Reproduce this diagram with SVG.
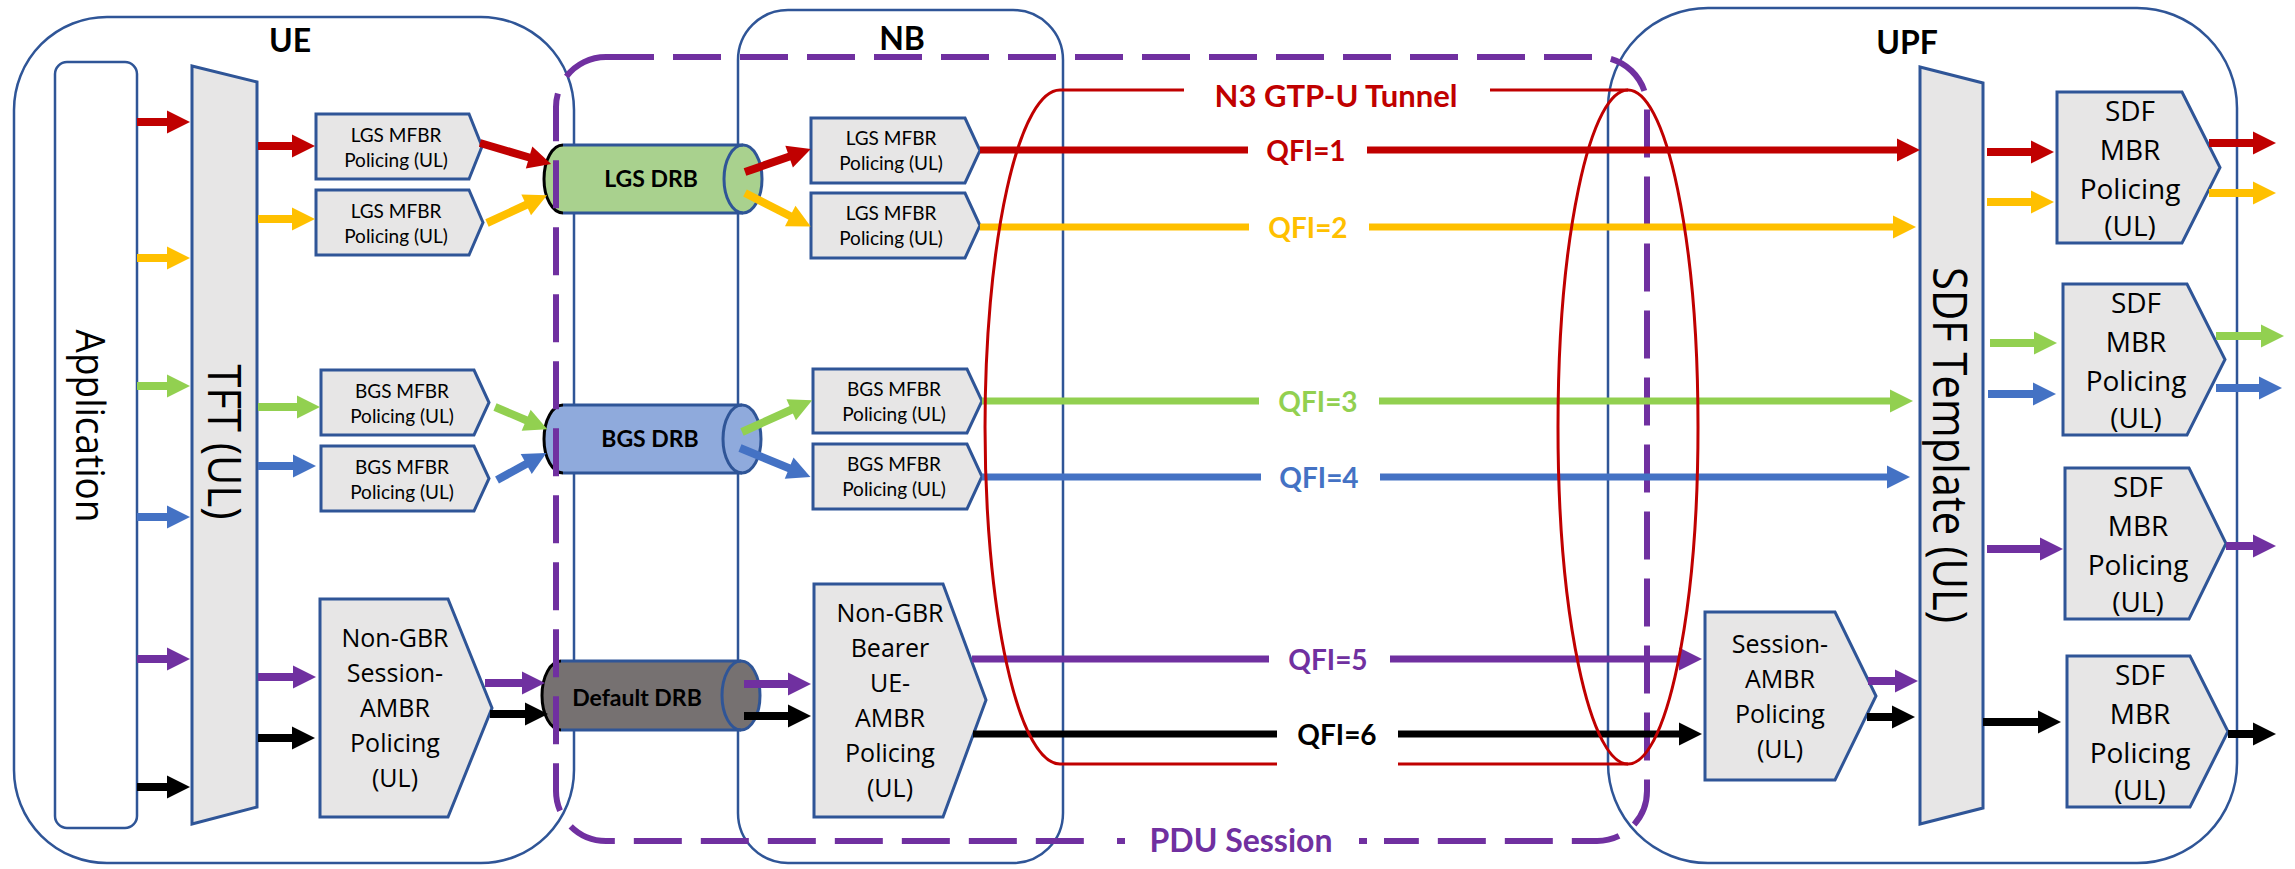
<svg xmlns="http://www.w3.org/2000/svg" width="2295" height="869" viewBox="0 0 2295 869">
<style>
.cont{fill:none;stroke:#2F5597;stroke-width:2.5}
.box{fill:#E7E6E6;stroke:#2F5597;stroke-width:3}
.sm{font-family:Lato,"Open Sans",sans-serif;font-size:19px;fill:#000;text-anchor:middle}
.md{font-family:"Open Sans",sans-serif;font-size:25px;fill:#000;text-anchor:middle}
.sd{font-family:"Open Sans",sans-serif;font-size:28px;fill:#000;text-anchor:middle}
.big{font-family:"Open Sans",sans-serif;fill:#000;text-anchor:middle}
.hdr{font-family:Lato,"Open Sans",sans-serif;font-weight:bold;font-size:32px;fill:#000;text-anchor:middle}
.drb{font-family:Lato,"Open Sans",sans-serif;font-weight:bold;font-size:23px;fill:#000;text-anchor:middle}
.qfi{font-family:Lato,"Open Sans",sans-serif;font-weight:bold;font-size:28px;text-anchor:middle}
.a{fill:none;stroke-width:8}
.q{fill:none;stroke-width:7}
.r{stroke:#C00000}.y{stroke:#FFC000}.g{stroke:#92D050}.b{stroke:#4472C4}.p{stroke:#7030A0}.k{stroke:#000}
.r.a,.r.q{marker-end:url(#mr)}.y.a,.y.q{marker-end:url(#my)}.g.a,.g.q{marker-end:url(#mg)}
.b.a,.b.q{marker-end:url(#mb)}.p.a,.p.q{marker-end:url(#mp)}.k.a,.k.q{marker-end:url(#mk)}
.cyl-side{stroke:#2F5597;stroke-width:3;fill:none}
.wbg{fill:#fff}
</style>
<defs>
<marker id="mr" markerUnits="userSpaceOnUse" markerWidth="23" markerHeight="23" viewBox="0 -11.5 23 23" refX="2" refY="0" orient="auto" overflow="visible"><path d="M0,-11.5L23,0L0,11.5Z" fill="#C00000"/></marker>
<marker id="my" markerUnits="userSpaceOnUse" markerWidth="23" markerHeight="23" viewBox="0 -11.5 23 23" refX="2" refY="0" orient="auto" overflow="visible"><path d="M0,-11.5L23,0L0,11.5Z" fill="#FFC000"/></marker>
<marker id="mg" markerUnits="userSpaceOnUse" markerWidth="23" markerHeight="23" viewBox="0 -11.5 23 23" refX="2" refY="0" orient="auto" overflow="visible"><path d="M0,-11.5L23,0L0,11.5Z" fill="#92D050"/></marker>
<marker id="mb" markerUnits="userSpaceOnUse" markerWidth="23" markerHeight="23" viewBox="0 -11.5 23 23" refX="2" refY="0" orient="auto" overflow="visible"><path d="M0,-11.5L23,0L0,11.5Z" fill="#4472C4"/></marker>
<marker id="mp" markerUnits="userSpaceOnUse" markerWidth="23" markerHeight="23" viewBox="0 -11.5 23 23" refX="2" refY="0" orient="auto" overflow="visible"><path d="M0,-11.5L23,0L0,11.5Z" fill="#7030A0"/></marker>
<marker id="mk" markerUnits="userSpaceOnUse" markerWidth="23" markerHeight="23" viewBox="0 -11.5 23 23" refX="2" refY="0" orient="auto" overflow="visible"><path d="M0,-11.5L23,0L0,11.5Z" fill="#000"/></marker>
</defs>
<rect width="2295" height="869" fill="#fff"/>

<!-- containers -->
<g id="ue"><rect class="cont" x="14" y="17" width="560" height="846" rx="93"/><text class="hdr" x="290" y="52">UE</text></g>
<g id="nb"><rect class="cont" x="738" y="10" width="325" height="853" rx="50"/><text class="hdr" x="902" y="50">NB</text></g>
<g id="upf"><rect class="cont" x="1608" y="8" width="629" height="855" rx="100"/><text class="hdr" x="1907" y="54">UPF</text></g>

<!-- UE internals -->
<g id="application"><rect x="55" y="62" width="82" height="766" rx="12" fill="#fff" stroke="#2F5597" stroke-width="2.5"/>
<text class="big" font-size="41" textLength="193" lengthAdjust="spacingAndGlyphs" transform="translate(76,426) rotate(90)">Application</text></g>
<g id="tft-ul"><path class="box" d="M192,66L257,82L257,807L192,824Z"/>
<text class="big" font-size="45" textLength="155" lengthAdjust="spacingAndGlyphs" transform="translate(208,442) rotate(90)">TFT (UL)</text></g>

<g id="ue-lgs-mfbr-1"><path class="box" d="M316,114H469L482,146.5L469,179H316Z"/><text class="sm" x="396" y="142">LGS MFBR</text><text class="sm" x="396" y="167">Policing (UL)</text></g>
<g id="ue-lgs-mfbr-2"><path class="box" d="M316,190H469L483,222.5L469,255H316Z"/><text class="sm" x="396" y="218">LGS MFBR</text><text class="sm" x="396" y="243">Policing (UL)</text></g>
<g id="ue-bgs-mfbr-1"><path class="box" d="M321,370H474L489,402.5L474,435H321Z"/><text class="sm" x="402" y="398">BGS MFBR</text><text class="sm" x="402" y="423">Policing (UL)</text></g>
<g id="ue-bgs-mfbr-2"><path class="box" d="M321,446H474L489,478.5L474,511H321Z"/><text class="sm" x="402" y="474">BGS MFBR</text><text class="sm" x="402" y="499">Policing (UL)</text></g>
<g id="ue-session-ambr"><path class="box" d="M320,599H448L492,708L448,817H320Z"/>
<text class="md" x="395" y="647">Non-GBR</text><text class="md" x="395" y="682">Session-</text><text class="md" x="395" y="717">AMBR</text><text class="md" x="395" y="752">Policing</text><text class="md" x="395" y="787">(UL)</text></g>

<!-- DRBs -->
<g id="lgs-drb"><path d="M563,145H743A19,34 0 0 1 743,213H563A19,34 0 0 1 563,145Z" fill="#A9D18E"/>
<path class="cyl-side" d="M563,145H743M563,213H743"/><ellipse class="cyl-side" cx="743" cy="179" rx="19" ry="34"/><path d="M563,145A19,34 0 0 0 563,213" fill="none" stroke="#000" stroke-width="3"/>
<text class="drb" x="651" y="187">LGS DRB</text></g>
<g id="bgs-drb"><path d="M563,405H742A19,34 0 0 1 742,473H563A19,34 0 0 1 563,405Z" fill="#8FAADC"/>
<path class="cyl-side" d="M563,405H742M563,473H742"/><ellipse class="cyl-side" cx="742" cy="439" rx="19" ry="34"/><path d="M563,405A19,34 0 0 0 563,473" fill="none" stroke="#000" stroke-width="3"/>
<text class="drb" x="650" y="447">BGS DRB</text></g>
<g id="default-drb"><path d="M561,661H741A19,34.5 0 0 1 741,730H561A19,34.5 0 0 1 561,661Z" fill="#767171"/>
<path class="cyl-side" d="M561,661H741M561,730H741"/><ellipse class="cyl-side" cx="741" cy="695.5" rx="19" ry="34.5"/><path d="M561,661A19,34.5 0 0 0 561,730" fill="none" stroke="#000" stroke-width="3"/>
<text class="drb" x="637" y="706">Default DRB</text></g>

<!-- NB internals -->
<g id="nb-lgs-mfbr-1"><path class="box" d="M811,118H965L980,150.5L965,183H811Z"/><text class="sm" x="891" y="145">LGS MFBR</text><text class="sm" x="891" y="170">Policing (UL)</text></g>
<g id="nb-lgs-mfbr-2"><path class="box" d="M811,193H965L980,225.5L965,258H811Z"/><text class="sm" x="891" y="220">LGS MFBR</text><text class="sm" x="891" y="245">Policing (UL)</text></g>
<g id="nb-bgs-mfbr-1"><path class="box" d="M813,369H967L982,401L967,433H813Z"/><text class="sm" x="894" y="396">BGS MFBR</text><text class="sm" x="894" y="421">Policing (UL)</text></g>
<g id="nb-bgs-mfbr-2"><path class="box" d="M813,444H967L982,476.5L967,509H813Z"/><text class="sm" x="894" y="471">BGS MFBR</text><text class="sm" x="894" y="496">Policing (UL)</text></g>
<g id="nb-ue-ambr"><path class="box" d="M814,584H943L986,700L943,817H814Z"/>
<text class="md" x="890" y="622">Non-GBR</text><text class="md" x="890" y="657">Bearer</text><text class="md" x="890" y="692">UE-</text><text class="md" x="890" y="727">AMBR</text><text class="md" x="890" y="762">Policing</text><text class="md" x="890" y="797">(UL)</text></g>

<!-- UPF internals -->
<g id="upf-session-ambr"><path class="box" d="M1705,612H1835L1876,696L1835,780H1705Z"/>
<text class="md" x="1780" y="653">Session-</text><text class="md" x="1780" y="688">AMBR</text><text class="md" x="1780" y="723">Policing</text><text class="md" x="1780" y="758">(UL)</text></g>
<g id="sdf-template-ul"><path class="box" d="M1920,67L1983,83L1983,808L1920,824Z"/>
<text class="big" font-size="47" textLength="356" lengthAdjust="spacingAndGlyphs" transform="translate(1933,445) rotate(90)">SDF Template (UL)</text></g>
<g id="sdf-mbr-1"><path class="box" d="M2057,92H2182L2220,167.5L2182,243H2057Z"/><text class="sd" x="2130" y="121">SDF</text><text class="sd" x="2130" y="160">MBR</text><text class="sd" x="2130" y="199">Policing</text><text class="sd" x="2130" y="236">(UL)</text></g>
<g id="sdf-mbr-2"><path class="box" d="M2063,284H2187L2225,359.5L2187,435H2063Z"/><text class="sd" x="2136" y="313">SDF</text><text class="sd" x="2136" y="352">MBR</text><text class="sd" x="2136" y="391">Policing</text><text class="sd" x="2136" y="428">(UL)</text></g>
<g id="sdf-mbr-3"><path class="box" d="M2065,468H2189L2226,543.5L2189,619H2065Z"/><text class="sd" x="2138" y="497">SDF</text><text class="sd" x="2138" y="536">MBR</text><text class="sd" x="2138" y="575">Policing</text><text class="sd" x="2138" y="612">(UL)</text></g>
<g id="sdf-mbr-4"><path class="box" d="M2067,656H2190L2228,731.5L2190,807H2067Z"/><text class="sd" x="2140" y="685">SDF</text><text class="sd" x="2140" y="724">MBR</text><text class="sd" x="2140" y="763">Policing</text><text class="sd" x="2140" y="800">(UL)</text></g>

<!-- PDU session -->
<g id="pdu-session"><rect x="556" y="57" width="1091" height="784" rx="50" fill="none" stroke="#7030A0" stroke-width="6" stroke-dasharray="48 19"/></g>

<!-- connectors -->
<g id="connectors">
<path class="a r" d="M137,122H169"/><path class="a y" d="M137,258H169"/><path class="a g" d="M137,386H169"/><path class="a b" d="M137,517H169"/><path class="a p" d="M137,659H169"/><path class="a k" d="M137,787H169"/>
<path class="a r" d="M258,146H294"/><path class="a y" d="M258,219H294"/><path class="a g" d="M258,407H299"/><path class="a b" d="M258,466H295"/><path class="a p" d="M258,677H295"/><path class="a k" d="M258,738H294"/>
<path class="a r" d="M480,143L531,158"/><path class="a y" d="M487,223L528,204"/><path class="a g" d="M495,407L528,421"/><path class="a b" d="M497,480L528,463"/><path class="a p" d="M485,683H524"/><path class="a k" d="M490,714H527"/>
<path class="a r" d="M745,172L791,156"/><path class="a y" d="M745,193L792,217"/><path class="a g" d="M742,432L793,409"/><path class="a b" d="M740,448L791,469"/><path class="a p" d="M744,684H790"/><path class="a k" d="M744,716H790"/>
<path class="q r" d="M980,150H1899"/><path class="q y" d="M980,227H1895"/><path class="q g" d="M982,401H1892"/><path class="q b" d="M982,477H1889"/><path class="q p" d="M972,659H1681"/><path class="q k" d="M973,734H1681"/>
<path class="a p" d="M1868,681H1897"/><path class="a k" d="M1867,717H1894"/>
<path class="a r" d="M1987,152H2033"/><path class="a y" d="M1987,202H2033"/><path class="a g" d="M1990,343H2036"/><path class="a b" d="M1988,394H2035"/><path class="a p" d="M1987,549H2042"/><path class="a k" d="M1983,722H2040"/>
<path class="a r" d="M2209,143H2255"/><path class="a y" d="M2209,193H2255"/><path class="a g" d="M2216,336H2263"/><path class="a b" d="M2216,388H2261"/><path class="a p" d="M2226,546H2255"/><path class="a k" d="M2228,734H2255"/>
</g>

<!-- N3 tunnel -->
<g id="n3-gtp-u-tunnel"><path d="M1628,90H1060A75,337 0 0 0 1060,764H1628" fill="none" stroke="#C00000" stroke-width="3"/>
<ellipse cx="1628" cy="427" rx="70" ry="337" fill="none" stroke="#C00000" stroke-width="3"/>
<rect class="wbg" x="1184" y="74" width="306" height="40"/>
<text class="hdr" x="1336" y="107" font-size="31" fill="#C00000" style="fill:#C00000;font-size:31px">N3 GTP-U Tunnel</text></g>

<!-- labels -->
<g id="qfi-labels">
<rect class="wbg" x="1248" y="138" width="119" height="26"/><text class="qfi" x="1306" y="161" fill="#C00000">QFI=1</text>
<rect class="wbg" x="1249" y="215" width="120" height="26"/><text class="qfi" x="1308" y="238" fill="#FFC000">QFI=2</text>
<rect class="wbg" x="1259" y="389" width="120" height="26"/><text class="qfi" x="1318" y="412" fill="#92D050">QFI=3</text>
<rect class="wbg" x="1261" y="465" width="119" height="26"/><text class="qfi" x="1319" y="488" fill="#4472C4">QFI=4</text>
<rect class="wbg" x="1269" y="647" width="121" height="26"/><text class="qfi" x="1328" y="670" fill="#7030A0">QFI=5</text>
<rect class="wbg" x="1277" y="720" width="121" height="46"/><text class="qfi" x="1337" y="745" fill="#000">QFI=6</text>
</g>
<g id="pdu-session-label"><rect class="wbg" x="1099" y="830" width="285" height="24"/>
<rect x="1117" y="838" width="8" height="6" fill="#7030A0"/><rect x="1359" y="838" width="8" height="6" fill="#7030A0"/>
<text class="hdr" x="1241" y="852" style="fill:#7030A0">PDU Session</text></g>
</svg>
